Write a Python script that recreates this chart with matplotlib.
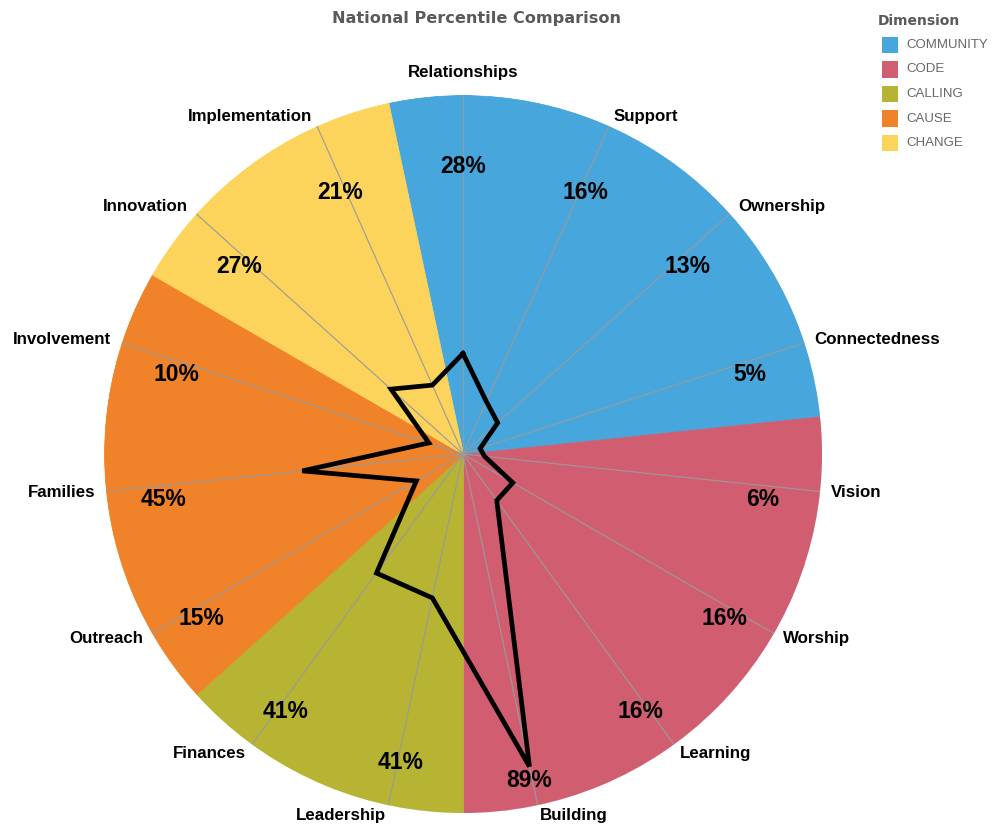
import numpy as np
import matplotlib
matplotlib.use("Agg")
import matplotlib.pyplot as plt
from matplotlib.patches import Rectangle

categories = ["Relationships", "Support", "Ownership", "Connectedness", "Vision",
              "Worship", "Learning", "Building", "Leadership", "Finances",
              "Outreach", "Families", "Involvement", "Innovation", "Implementation"]
dimension_of = ["COMMUNITY", "COMMUNITY", "COMMUNITY", "COMMUNITY",
                "CODE", "CODE", "CODE", "CODE",
                "CALLING", "CALLING",
                "CAUSE", "CAUSE", "CAUSE",
                "CHANGE", "CHANGE"]
values = [28, 16, 13, 5, 6, 16, 16, 89, 41, 41, 15, 45, 10, 27, 21]

dimensions = ["COMMUNITY", "CODE", "CALLING", "CAUSE", "CHANGE"]
dim_colors = {"COMMUNITY": "#47a6dc", "CODE": "#d15e70", "CALLING": "#b6b432",
              "CAUSE": "#f0822a", "CHANGE": "#fcd35b"}

plt.rcParams['font.family'] = ['Liberation Sans', 'DejaVu Sans']

W, H = 993, 825
fig = plt.figure(figsize=(W / 100, H / 100), dpi=100)
cx, cy, R = 463, 454, 359
ax = fig.add_axes([(cx - R) / W, (H - cy - R) / H, 2 * R / W, 2 * R / H], projection='polar')
ax.set_theta_zero_location('N')
ax.set_theta_direction(-1)
ax.set_ylim(0, 100)

n = len(categories)
theta = np.arange(n) * 2 * np.pi / n
width = 2 * np.pi / n

# background sectors, one per category, coloured by dimension
for t, d in zip(theta, dimension_of):
    th = np.linspace(t - width / 2, t + width / 2, 60)
    ax.fill_between(th, 0, 100, facecolor=dim_colors[d], edgecolor=dim_colors[d],
                    linewidth=0.6, zorder=1)

# spokes
ax.set_xticks(theta)
ax.set_xticklabels([])
ax.set_yticks([])
ax.xaxis.grid(True, color='#9a9a9a', linewidth=0.9, alpha=0.9)
ax.yaxis.grid(False)
ax.set_axisbelow(False)
ax.spines['polar'].set_visible(False)
ax.patch.set_alpha(0)

# radar line
th_c = np.append(theta, theta[0])
v_c = np.append(values, values[0])
ax.plot(th_c, v_c, color='black', linewidth=3.4, solid_joinstyle='miter', zorder=5)

# category labels
for t, name in zip(theta, categories):
    s = np.sin(t)
    if s > 0.05:
        ha = 'left'
    elif s < -0.05:
        ha = 'right'
    else:
        ha = 'center'
    top = np.cos(t) > 0.99
    va = 'bottom' if top else 'center'
    ax.text(t, 104.2 if top else 103, name, ha=ha, va=va, fontsize=12.2,
            fontweight='bold', color='black', zorder=6)

# percent labels
for t, v in zip(theta, values):
    ax.annotate(f"{v}%", xy=(t, max(84, v)), xytext=(0, -10), textcoords='offset points',
                ha='center', va='center', fontsize=16.5, fontweight='bold',
                color='black', zorder=7)

# title
fig.text(477 / W, 1 - 19 / H, "National Percentile Comparison", ha='center', va='center',
         fontsize=11.6, fontweight='bold', color='#5a5a5a', family='DejaVu Sans')

# legend
fig.text(878 / W, 1 - 21 / H, "Dimension", ha='left', va='center', fontsize=10,
         fontweight='bold', color='#5a5a5a', family='DejaVu Sans')
for i, d in enumerate(dimensions):
    yc = 45 + i * 24.5
    fig.add_artist(Rectangle((882 / W, 1 - (yc + 8) / H), 16 / W, 16 / H,
                             transform=fig.transFigure, facecolor=dim_colors[d],
                             edgecolor='none'))
    fig.text(906 / W, 1 - yc / H, d, ha='left', va='center', fontsize=9.5,
             color='#666666')

fig.savefig("out.png", dpi=100, facecolor='white')
